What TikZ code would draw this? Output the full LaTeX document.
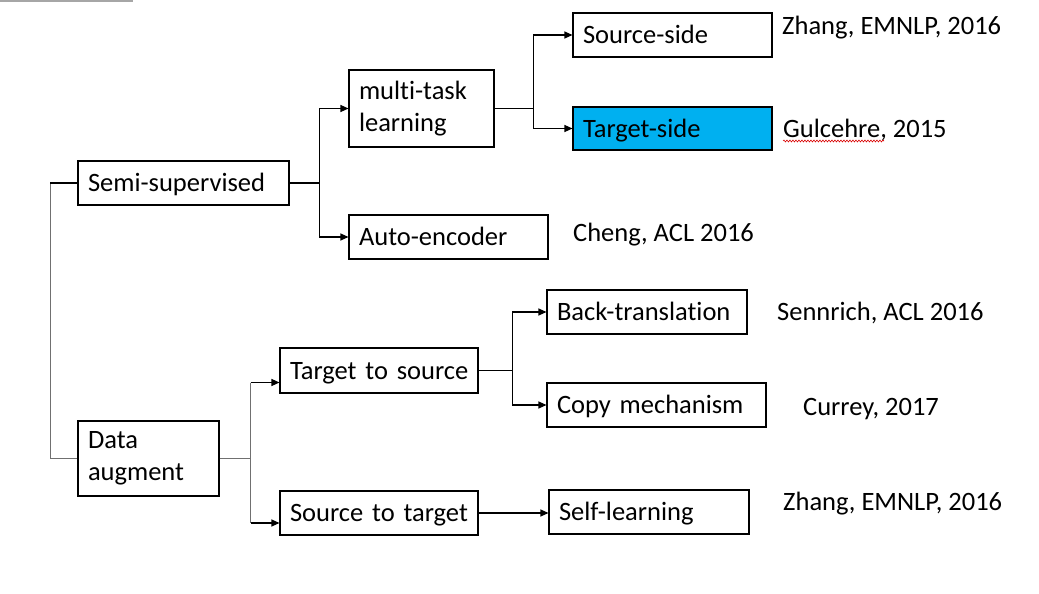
\documentclass[tikz,border=0pt]{standalone}
\usepackage{fontspec}
\setmainfont{Carlito}[Ligatures={NoCommon,NoContextual}]
\usetikzlibrary{arrows.meta,calc,decorations.pathmorphing}
\definecolor{cyanfill}{HTML}{00B0F0}
\definecolor{linegray}{HTML}{707070}
\begin{document}
\begin{tikzpicture}[x=1pt,y=-1pt,
  box/.style={draw=black,line width=1.1pt,inner xsep=10pt,inner ysep=0pt,align=left,
    font=\fontsize{26.5}{32}\selectfont},
  sbox/.style={box,text height=21pt,text depth=4pt},
  lbl/.style={anchor=base west,inner sep=0pt,font=\fontsize{26.5}{32}\selectfont},
  conn/.style={line width=1.2pt,draw=black},
  gconn/.style={line width=1.4pt,draw=linegray},
  arr/.style={conn,-{Triangle[length=8pt,width=7pt]}}]
\useasboundingbox (0,0) rectangle (1039,594);
\fill[gray!70] (0,0) rectangle (133,2.5);
% boxes
\node[sbox,text width=191pt,minimum height=44pt] (semi) at (183.5,183) {\mbox{Semi-supervised}};
\node[box,text width=125pt,minimum height=77pt] (mtl) at (421.5,108.5) {mult\kern0pt i-task\\learning};
\node[sbox,text width=179pt,minimum height=44pt] (ae) at (448.5,237) {\mbox{Auto-encoder}};
\node[sbox,text width=179pt,minimum height=44pt] (src) at (672.5,35) {\mbox{Source-side}};
\node[sbox,text width=179pt,minimum height=43pt,fill=cyanfill] (tgt) at (672.5,128.5) {\mbox{Target-side}};
\node[box,text width=121pt,minimum height=75pt] (da) at (148.5,458.5) {Data\\augment};
\node[sbox,text width=178pt,minimum height=45pt] (tts) at (379,370.5) {\mbox{Target to source}};
\node[sbox,text width=178pt,minimum height=44pt] (stt) at (379,513) {\mbox{Source to target}};
\node[sbox,text width=180pt,minimum height=44pt] (bt) at (647,312) {\mbox{Back-translat\kern0pt ion}};
\node[sbox,text width=199pt,minimum height=44pt] (cm) at (656.5,405) {\mbox{Copy mechanism}};
\node[sbox,text width=180pt,minimum height=44pt] (sl) at (649,512) {\mbox{Self-learning}};
% labels
\node[lbl] (l1) at (782,35) {Zhang, EMNLP, 2016};
\node[lbl] (l2) at (783,137) {Gulcehre, 2015};
\node[lbl] (l3) at (573,241) {Cheng, ACL 2016};
\node[lbl] (l4) at (777,320) {Sennrich, ACL 2016};
\node[lbl] (l5) at (803,415) {Currey, 2017};
\node[lbl] (l6) at (783,510) {Zhang, EMNLP, 2016};
\draw[red!85!black,line width=0.6pt,decorate,decoration={snake,amplitude=0.9pt,segment length=3pt}]
  ($(l2.base west)+(0,4)$) -- ($(l2.base west)+(101,4)$);
% connectors
\draw[gconn] (semi.west) -- ++(-27,0) coordinate (j0) |- (da.west);
\draw[conn] (semi.west) -- ++(-27,0);
\draw[conn] (semi.east) -- ++(30,0) coordinate (j1);
\draw[arr] (j1) |- (mtl.west);
\draw[arr] (j1) |- (ae.west);
\draw[conn] (mtl.east) -- ++(39,0) coordinate (j2);
\draw[arr] (j2) |- (src.west);
\draw[arr] (j2) |- (tgt.west);
\draw[gconn] (da.east) -- ++(31,0) coordinate (j3);
\coordinate (ttsin) at ([yshift=-12pt]tts.west);
\coordinate (sttin) at ([yshift=-10pt]stt.west);
\draw[gconn] (j3 |- ttsin) -- (j3 |- sttin);
\draw[arr] (j3 |- ttsin) -- (ttsin);
\draw[arr] (j3 |- sttin) -- (sttin);
\draw[conn] (tts.east) -- ++(34,0) coordinate (j4);
\draw[arr] (j4) |- (bt.west);
\draw[arr] (j4) |- (cm.west);
\draw[arr] (stt.east) -- (stt.east -| sl.west);
\end{tikzpicture}
\end{document}
